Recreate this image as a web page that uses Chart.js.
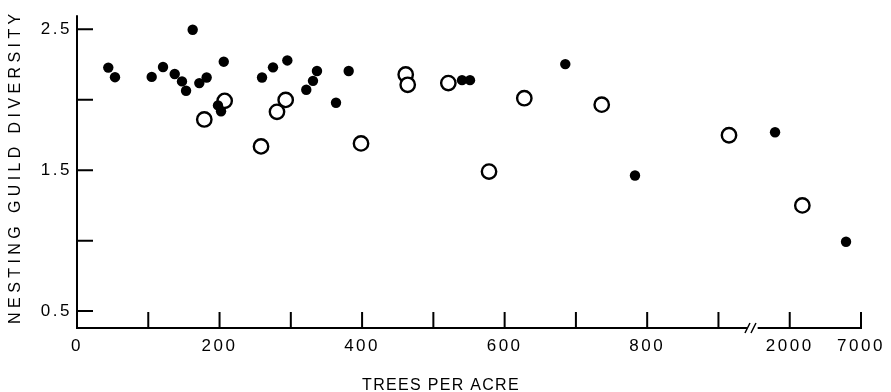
<!DOCTYPE html>
<html lang="en">
<head>
<meta charset="UTF-8">
<title>Nesting guild diversity</title>
<script src="https://cdn.jsdelivr.net/npm/chart.js"></script>
<style>
  html, body { margin: 0; padding: 0; background: #fff; }
  #wrap { width: 891px; height: 392px; }
</style>
</head>
<body>
<div id="wrap"><canvas id="myChart"></canvas></div>
<script>
// x is the position on the drawn axis; past 900 the axis is broken,
// the tick at 1000 reads 2000 and the tick at 1100 reads 7000
const filledX = [43.9, 53.3, 104.8, 120.7, 137.1, 147.3, 153.0, 162.3, 171.6, 181.9,
                 197.8, 202.1, 205.9, 259.6, 275.0, 295.1, 321.7, 331.1, 336.7, 363.4,
                 381.2, 540.2, 551.4, 685.1, 782.9, 979.4, 1079.0];
const filledY = [2.228, 2.160, 2.162, 2.232, 2.183, 2.130, 2.064, 2.497, 2.118, 2.158,
                 1.960, 1.918, 2.270, 2.158, 2.230, 2.279, 2.071, 2.134, 2.204, 1.979,
                 2.204, 2.139, 2.139, 2.253, 1.462, 1.769, 0.992];
const openX = [178.6, 207.2, 258.2, 280.6, 292.8, 398.5, 461.2, 464.0, 521.0, 578.1,
               627.6, 736.2, 914.8, 1017.7];
const openY = [1.860, 1.992, 1.669, 1.914, 1.999, 1.690, 2.179, 2.106, 2.118, 1.490,
               2.011, 1.965, 1.748, 1.250];

const xTicks = [0, 100, 200, 300, 400, 500, 600, 700, 800, 900, 1000, 1100];
const xTickLabels = {0: '0', 200: '200', 400: '400', 600: '600', 800: '800', 1000: '2000', 1100: '7000'};
const yTicks = [0.5, 1.0, 1.5, 2.0, 2.5];
const yTickLabels = {0.5: '0.5', 1.5: '1.5', 2.5: '2.5'};

const xTitle = 'TREES PER ACRE';
const yTitle = 'NESTING GUILD DIVERSITY';

function toPoints(xs, ys) {
  return xs.map((x, i) => ({x: x, y: ys[i]}));
}

// letter spacing and nudge for the two axis titles
const titleStyle = {
  x: {spacing: '1.3px', dx: -28, dy: 0},
  y: {spacing: '4.4px', dx: 0, dy: -5}
};

// axis lines, inward ticks and the break in the x axis
const axisPlugin = {
  id: 'axisPlugin',
  beforeDraw(chart) {
    const ctx = chart.ctx;
    ctx.letterSpacing = '2.5px';
    Object.values(chart.scales).forEach(s => {
      if (s._patched) return;
      const orig = s.drawTitle;
      s.drawTitle = function () {
        const c = this.ctx;
        const st = titleStyle[this.id];
        const prev = c.letterSpacing;
        c.save();
        c.translate(st.dx, st.dy);
        c.letterSpacing = st.spacing;
        orig.apply(this, arguments);
        c.restore();
        c.letterSpacing = prev;
      };
      s._patched = true;
    });
  },
  afterDatasetsDraw(chart) {
    const ctx = chart.ctx;
    const xs = chart.scales.x, ys = chart.scales.y;
    const x0 = xs.getPixelForValue(0);
    const yTop = ys.top;
    const yBot = ys.bottom;
    ctx.save();
    ctx.strokeStyle = '#000';
    ctx.lineWidth = 2;
    ctx.lineCap = 'butt';
    ctx.beginPath();
    // y axis
    ctx.moveTo(x0, yTop);
    ctx.lineTo(x0, yBot + 1);
    // x axis with break
    const bA = xs.getPixelForValue(940);
    const bB = xs.getPixelForValue(955);
    ctx.moveTo(x0 - 1, yBot);
    ctx.lineTo(bA, yBot);
    ctx.moveTo(bB, yBot);
    ctx.lineTo(xs.getPixelForValue(1100) + 1, yBot);
    ctx.stroke();
    // break marks
    ctx.lineWidth = 1.5;
    ctx.beginPath();
    ctx.moveTo(bA - 2, yBot + 5);
    ctx.lineTo(bA + 3, yBot - 5);
    ctx.moveTo(bA + 4, yBot + 5);
    ctx.lineTo(bA + 9, yBot - 5);
    ctx.stroke();
    // ticks
    ctx.lineWidth = 2;
    ctx.beginPath();
    xTicks.forEach(v => {
      if (v === 0) return;
      const px = xs.getPixelForValue(v);
      ctx.moveTo(px, yBot);
      ctx.lineTo(px, yBot - 16);
    });
    yTicks.forEach(v => {
      const py = ys.getPixelForValue(v);
      ctx.moveTo(x0, py);
      ctx.lineTo(x0 + 16, py);
    });
    ctx.stroke();
    ctx.restore();
  }
};

const config = {
  type: 'scatter',
  data: {
    datasets: [
      {
        label: 'filled',
        data: toPoints(filledX, filledY),
        pointRadius: 5.2,
        pointHoverRadius: 5.2,
        backgroundColor: '#000',
        borderColor: '#000',
        borderWidth: 0
      },
      {
        label: 'open',
        data: toPoints(openX, openY),
        pointRadius: 7.2,
        pointHoverRadius: 7.2,
        backgroundColor: '#fff',
        borderColor: '#000',
        borderWidth: 2.4
      }
    ]
  },
  options: {
    responsive: true,
    maintainAspectRatio: false,
    animation: false,
    layout: {padding: {left: 0, right: 30, top: 10, bottom: 0}},
    plugins: {
      legend: {display: false},
      tooltip: {enabled: false}
    },
    scales: {
      x: {
        type: 'linear',
        min: 0,
        max: 1100,
        afterBuildTicks: s => { s.ticks = xTicks.map(v => ({value: v})); },
        afterFit: s => { s.height = 64; },
        grid: {display: false, drawTicks: false},
        border: {display: false},
        ticks: {
          autoSkip: false,
          maxRotation: 0,
          padding: 8,
          color: '#000',
          font: {family: 'Liberation Sans, Arial, sans-serif', size: 17},
          callback: v => xTickLabels[v] || ''
        },
        title: {
          display: true,
          text: xTitle,
          color: '#000',
          padding: {top: 0, bottom: -3},
          font: {family: 'Liberation Sans, Arial, sans-serif', size: 16}
        }
      },
      y: {
        type: 'linear',
        min: 0.38,
        max: 2.6,
        afterBuildTicks: s => { s.ticks = yTicks.map(v => ({value: v})); },
        afterFit: s => { s.width = 77; },
        grid: {display: false, drawTicks: false},
        border: {display: false},
        ticks: {
          padding: 5,
          color: '#000',
          font: {family: 'Liberation Sans, Arial, sans-serif', size: 17},
          callback: v => yTickLabels[v] || ''
        },
        title: {
          display: true,
          text: yTitle,
          color: '#000',
          padding: {top: 6, bottom: 0},
          font: {family: 'Liberation Sans, Arial, sans-serif', size: 16}
        }
      }
    }
  },
  plugins: [axisPlugin]
};

const myChart = new Chart(document.getElementById('myChart'), config);
</script>
</body>
</html>
